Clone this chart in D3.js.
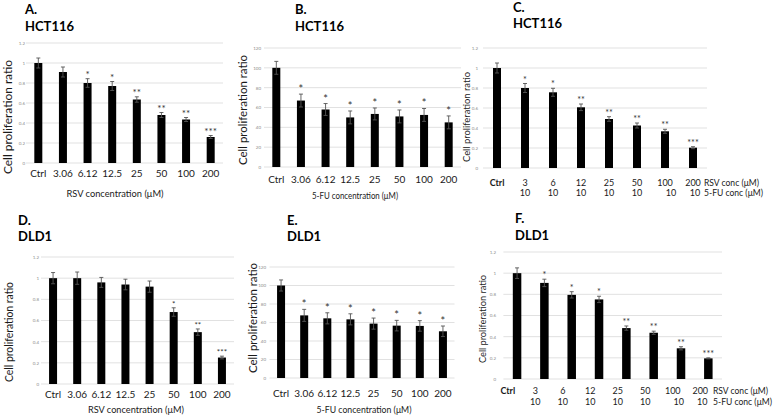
<!DOCTYPE html>
<html><head><meta charset="utf-8">
<script src="https://cdn.jsdelivr.net/npm/d3@7"></script>
<style>
body{margin:0;background:#fff}
svg{display:block}
text{font-family:Lato,"Open Sans",sans-serif}
</style>
</head><body>
<svg id="c" width="776" height="416"></svg>
<script>
// ---------- data ----------
const rsvCats = ["Ctrl","3.06","6.12","12.5","25","50","100","200"];
const fuCats = ["Ctrl","3.06","6.12","12.5","25","50","100","200"];
const comboRsvCats = ["Ctrl","3","6","12","25","50","100","200"];
const comboFuCats = ["","10","10","10","10","10","10","10"];
const ratioTicks = [0,0.2,0.4,0.6,0.8,1,1.2];
const ratioTickLabels = ["0","0.2","0.4","0.6","0.8","1","1.2"];
const pctTicks = [0,20,40,60,80,100,120];
const pctTickLabels = ["0","20","40","60","80","100","120"];

const hctRsvVals = [1.00,0.91,0.80,0.77,0.635,0.48,0.435,0.26];
const hctRsvErr  = [0.05,0.05,0.043,0.045,0.027,0.025,0.02,0.015];
const hctRsvStars = ["","","*","*","**","**","**","***"];

const hctFuVals = [100,67,58,50,53.5,51,52.5,45];
const hctFuErr  = [6.5,6.5,6,6.5,6,6.5,6.5,6.5];
const hctFuStars = ["","*","*","*","*","*","*","*"];

const hctComboVals = [1.00,0.80,0.757,0.607,0.49,0.425,0.367,0.203];
const hctComboErr  = [0.05,0.045,0.04,0.033,0.023,0.025,0.02,0.01];
const hctComboStars = ["","*","*","**","**","**","**","***"];

const dldRsvVals = [1.00,1.00,0.96,0.94,0.92,0.68,0.49,0.25];
const dldRsvErr  = [0.053,0.058,0.047,0.05,0.053,0.04,0.03,0.013];
const dldRsvStars = ["","","","","","*","**","***"];

const dldFuVals = [100,67.7,64.5,63.4,58.8,56.6,56.3,50.5];
const dldFuErr  = [6,6.5,6,6,6,5.7,5.7,5.7];
const dldFuStars = ["","*","*","*","*","*","*","*"];

const dldComboVals = [1.00,0.908,0.795,0.752,0.481,0.437,0.29,0.195];
const dldComboErr  = [0.05,0.035,0.03,0.03,0.02,0.015,0.015,0.005];
const dldComboStars = ["","*","*","*","**","**","**","***"];

const yTitle = "Cell proliferation ratio";

// ---------- layout ----------
const panels = [
  {letter:"A.", cell:"HCT116", cats:rsvCats, vals:hctRsvVals, err:hctRsvErr, stars:hctRsvStars,
   ticks:ratioTicks, tickLabels:ratioTickLabels, max:1.2,
   xr:[26,223], yr:[163,43], tickX:25, head:{x:25,y1:14,y2:31},
   yt:{x:7, cy:117, len:114}, xLabY:177, xTitle:"RSV concentration (μM)", xt:{x:115,y:197,len:97},
   barW:8, starSize:10},
  {letter:"B.", cell:"HCT116", cats:fuCats, vals:hctFuVals, err:hctFuErr, stars:hctFuStars,
   ticks:pctTicks, tickLabels:pctTickLabels, max:120,
   xr:[264,461], yr:[167,48], tickX:261, head:{x:295,y1:14,y2:31},
   yt:{x:242, cy:110, len:110}, xLabY:183, xTitle:"5-FU concentration (μM)", xt:{x:355,y:199,len:86},
   barW:8, starSize:11},
  {letter:"C.", cell:"HCT116", cats:comboRsvCats, cats2:comboFuCats, vals:hctComboVals, err:hctComboErr, stars:hctComboStars,
   ticks:ratioTicks, tickLabels:ratioTickLabels, max:1.2,
   xr:[483,707], lr:[483,707], yr:[168,48], tickX:478, head:{x:513,y1:12,y2:28},
   yt:{x:466, cy:117, len:90}, row1:186, row2:196, rowLabelX:704, shift2:[0,0,0,0,0,0,6,2],
   barW:8, starSize:9},
  {letter:"D.", cell:"DLD1", cats:rsvCats, vals:dldRsvVals, err:dldRsvErr, stars:dldRsvStars,
   ticks:ratioTicks, tickLabels:ratioTickLabels, max:1.2,
   xr:[41,234], yr:[384,257], tickX:39, head:{x:18,y1:225,y2:241},
   yt:{x:9, cy:332, len:100}, xLabY:398, xTitle:"RSV concentration (μM)", xt:{x:136,y:413,len:96},
   barW:8, starSize:8},
  {letter:"E.", cell:"DLD1", cats:fuCats, vals:dldFuVals, err:dldFuErr, stars:dldFuStars,
   ticks:pctTicks, tickLabels:pctTickLabels, max:120,
   xr:[269.5,454.5], yr:[378,267], tickX:266, head:{x:287,y1:225,y2:241},
   yt:{x:252, cy:318, len:110}, xLabY:397, xTitle:"5-FU concentration (μM)", xt:{x:364,y:413,len:95},
   barW:8, starSize:11},
  {letter:"F.", cell:"DLD1", cats:comboRsvCats, cats2:comboFuCats, vals:dldComboVals, err:dldComboErr, stars:dldComboStars,
   ticks:ratioTicks, tickLabels:ratioTickLabels, max:1.2,
   xr:[503.4,722], lr:[494,714], yr:[379,252], tickX:496, head:{x:515,y1:223,y2:240},
   yt:{x:482, cy:319, len:88}, row1:394, row2:405, rowLabelX:713, shift2:[0,0,0,0,0,0,6,2],
   barW:8.5, starSize:9}
];

const svg = d3.select("#c");

panels.forEach(p => {
  const g = svg.append("g");
  const x = d3.scaleBand().domain(p.cats.map((c,i)=>i)).range(p.xr).paddingInner(0).paddingOuter(0);
  const y = d3.scaleLinear().domain([0,p.max]).range(p.yr);
  const tickLabel = d => p.tickLabels[p.ticks.indexOf(d)];
  const cx = i => x(i) + x.bandwidth()/2;

  // gridlines
  g.selectAll("line.grid").data(p.ticks).join("line")
    .attr("x1", p.xr[0]).attr("x2", p.xr[1])
    .attr("y1", d => y(d)).attr("y2", d => y(d))
    .attr("stroke", "#d9d9d9").attr("stroke-width", 0.8);

  // y axis
  const ya = g.append("g").attr("transform", `translate(${p.tickX},0)`)
    .call(d3.axisLeft(y).tickValues(p.ticks).tickFormat(tickLabel).tickSize(0).tickPadding(0));
  ya.select(".domain").remove();
  ya.selectAll("text").attr("font-size", 4.5).attr("fill", "#8c8c8c").attr("font-family","Lato");

  // y title
  g.append("text")
    .attr("transform", `translate(${p.yt.x},${p.yt.cy}) rotate(-90)`)
    .attr("text-anchor", "middle").attr("dominant-baseline", "central")
    .attr("font-size", p.yt.len/9.4).attr("fill", "#1a1a1a")
    .attr("textLength", p.yt.len).attr("lengthAdjust", "spacingAndGlyphs")
    .text(yTitle);

  // bars
  const bw = p.barW;
  g.selectAll("rect.bar").data(p.vals).join("rect")
    .attr("x", (d,i) => cx(i) - bw/2)
    .attr("width", bw)
    .attr("y", d => y(d)).attr("height", d => y(0) - y(d))
    .attr("fill", "#000");

  // error bars
  const eg = g.selectAll("g.err").data(p.vals).join("g");
  eg.append("line")
    .attr("x1", (d,i) => cx(i)).attr("x2", (d,i) => cx(i))
    .attr("y1", (d,i) => y(d + p.err[i])).attr("y2", (d,i) => y(d - p.err[i]))
    .attr("stroke", "#555").attr("stroke-width", 0.9);
  [1,-1].forEach(s => {
    eg.append("line")
      .attr("x1", (d,i) => cx(i) - 2).attr("x2", (d,i) => cx(i) + 2)
      .attr("y1", (d,i) => y(d + s*p.err[i]))
      .attr("y2", (d,i) => y(d + s*p.err[i]))
      .attr("stroke", "#555").attr("stroke-width", 0.9);
  });

  // stars
  g.selectAll("text.star").data(p.vals).join("text")
    .attr("x", (d,i) => cx(i))
    .attr("y", (d,i) => y(d + p.err[i]) - 1)
    .attr("text-anchor", "middle").attr("font-size", p.starSize).attr("fill", "#333")
    .text((d,i) => p.stars[i]);

  // x labels
  if (!p.cats2) {
    const xa = g.append("g").attr("transform", `translate(0,${p.xLabY})`)
      .call(d3.axisBottom(x).tickFormat(i => p.cats[i]).tickSize(0));
    xa.select(".domain").remove();
    xa.selectAll("text").attr("y", 0).attr("dy", 0).attr("font-size", 10).attr("fill", "#1a1a1a").attr("font-family","Lato");
    g.append("text").attr("x", p.xt.x).attr("y", p.xt.y).attr("text-anchor", "middle")
      .attr("font-size", 10).attr("fill", "#1a1a1a")
      .attr("textLength", p.xt.len).attr("lengthAdjust", "spacingAndGlyphs")
      .text(p.xTitle);
  } else {
    const lx = d3.scaleBand().domain(p.cats.map((c,i)=>i)).range(p.lr);
    const xa = g.append("g").attr("transform", `translate(0,${p.row1})`)
      .call(d3.axisBottom(lx).tickFormat(i => p.cats[i]).tickSize(0));
    xa.select(".domain").remove();
    xa.selectAll("text").attr("y", 0).attr("dy", 0).attr("font-size", 9).attr("fill", "#1a1a1a").attr("font-family","Lato")
      .attr("font-weight", (d,i) => i === 0 ? "bold" : "normal");
    const xb = g.append("g").attr("transform", `translate(0,${p.row2})`)
      .call(d3.axisBottom(lx).tickFormat(i => p.cats2[i]).tickSize(0));
    xb.select(".domain").remove();
    xb.selectAll("text").attr("y", 0).attr("dy", 0).attr("dx", (d,i) => p.shift2[i])
      .attr("font-size", 9).attr("fill", "#1a1a1a").attr("font-family","Lato");
    g.append("text").attr("x", p.rowLabelX).attr("y", p.row1).attr("font-size", 9).attr("fill", "#1a1a1a")
      .attr("textLength", 55).attr("lengthAdjust", "spacingAndGlyphs").text("RSV conc (μM)");
    g.append("text").attr("x", p.rowLabelX).attr("y", p.row2).attr("font-size", 9).attr("fill", "#1a1a1a")
      .attr("textLength", 59).attr("lengthAdjust", "spacingAndGlyphs").text("5-FU conc (μM)");
  }

  // headings
  g.append("text").attr("x", p.head.x).attr("y", p.head.y1).attr("font-size", 13).attr("font-weight", "bold").attr("fill", "#000").text(p.letter);
  g.append("text").attr("x", p.head.x).attr("y", p.head.y2).attr("font-size", 13).attr("font-weight", "bold").attr("fill", "#000").text(p.cell);
});
</script>
</body></html>
